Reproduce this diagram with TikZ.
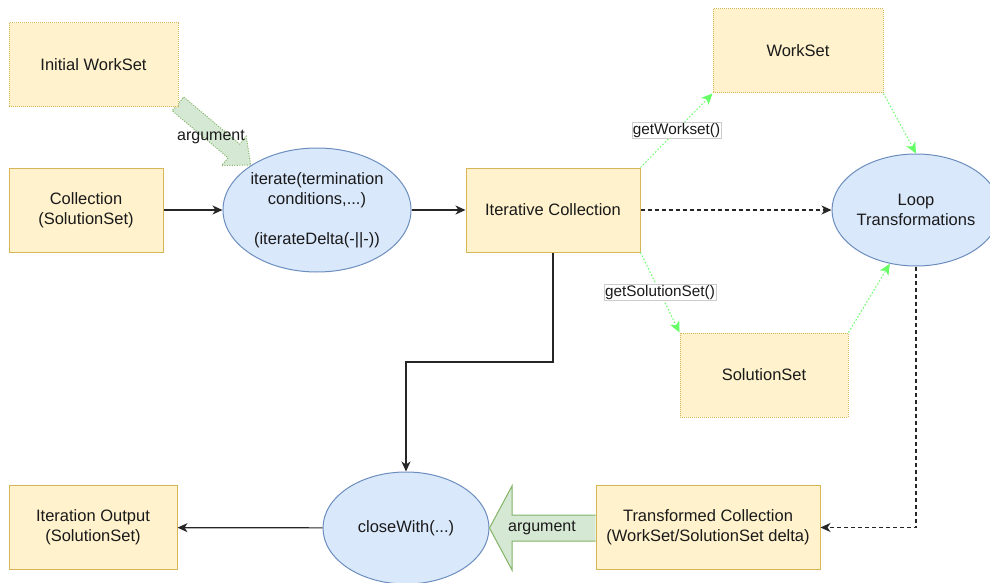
\documentclass[tikz,border=0pt]{standalone}
\usepackage{fontspec}
\setmainfont{Liberation Sans}
\usetikzlibrary{shapes.geometric,arrows.meta}
\definecolor{yfill}{HTML}{FFF2CC}
\definecolor{ydraw}{HTML}{D6B656}
\definecolor{bfill}{HTML}{DAE8FC}
\definecolor{bdraw}{HTML}{6C8EBF}
\definecolor{gfill}{HTML}{D5E8D4}
\definecolor{gdraw}{HTML}{82B366}
\definecolor{glink}{HTML}{66FF66}
\definecolor{txt}{HTML}{1A1A1A}
\begin{document}
\begin{tikzpicture}[x=1pt,y=-1pt,
  every node/.style={font=\fontsize{16.5}{20}\selectfont, text=txt},
  ybox/.style={rectangle, draw=ydraw, fill=yfill, line width=1pt, align=center, inner sep=0pt},
  dotbox/.style={ybox, dash pattern=on 1pt off 1pt},
  bell/.style={ellipse, draw=bdraw, fill=bfill, line width=1pt, align=center, inner sep=0pt},
  blk/.style={draw=black!85, line width=1.2pt, -{Stealth[length=10pt,width=9pt,inset=3pt]}},
  dsh/.style={blk, dash pattern=on 4pt off 3pt},
  grn/.style={draw=glink, line width=1pt, dash pattern=on 1.5pt off 2pt, -{Stealth[length=11pt,width=10pt,inset=3pt]}},
  lab/.style={fill=white, draw=black!20, solid, line width=0.6pt, inner sep=1pt, font=\fontsize{15.3}{17}\selectfont},
  fat/.style={fill=gfill, draw=gdraw, line width=1pt, line join=miter},
  fatlab/.style={font=\fontsize{16}{18}\selectfont}
]
\clip (0,0) rectangle (990,583);
\fill[white] (0,0) rectangle (990,583);

% top fat argument arrow (dotted)
\begin{scope}[shift={(178,104)}, rotate=-40]
  \draw[fat, dash pattern=on 1pt off 1.5pt] (0,-9) -- (73,-9) -- (73,-19) -- (95,0) -- (73,19) -- (73,9) -- (0,9) -- cycle;
\end{scope}
\node[fatlab] (argA) at (211,137) {argument};

% nodes
\node[dotbox, minimum width=169pt, minimum height=84pt] (iws) at (93.5,65) {Initial WorkSet};
\node[ybox, minimum width=154pt, minimum height=84pt] (coll) at (86,210) {Collection\\(SolutionSet)};
\node[bell, minimum width=182pt, minimum height=124pt] (iter) at (317,210) {iterate(termination\\conditions,...)\\[20pt](iterateDelta(-||-))};
\node[ybox, minimum width=174pt, minimum height=84pt] (ic) at (553,210) {Iterative Collection};
\node[dotbox, minimum width=170pt, minimum height=84pt] (ws) at (798,51) {WorkSet};
\node[bell, minimum width=168pt, minimum height=112pt] (loop) at (916,210) {Loop\\Transformations};
\node[dotbox, minimum width=168pt, minimum height=84pt] (ss) at (764,375) {SolutionSet};
\node[bell, minimum width=166pt, minimum height=112pt] (cw) at (406,528) {closeWith(...)};
\node[ybox, minimum width=168pt, minimum height=84pt] (io) at (93,527.5) {Iteration Output\\(SolutionSet)};
\node[ybox, minimum width=224pt, minimum height=84pt] (tc) at (708,527.5) {Transformed Collection\\(WorkSet/SolutionSet delta)};

% bottom fat argument arrow
\draw[fat] (tc.west |- 0,515) -- (512,515) -- (512,486) -- (cw.east) -- (512,570) -- (512,541) -- (tc.west |- 0,541);
\node[fatlab] (argB) at (542,528) {argument};

% connectors
\draw[blk] (coll) -- (iter);
\draw[blk] (iter) -- (ic);
\draw[dsh] (ic) -- (loop);
\draw[blk] (ic.south) -- (ic.south |- 0,362) -| (cw.north);
\draw[dsh] (loop.south) |- (tc.east);
\draw[blk] (cw) -- (io);

\draw[grn] (ic.north east) -- node[lab] (lws) {getWorkset()} (ws.south west);
\draw[grn] (ws.south east) -- (loop.north);
\draw[grn] (ic.south east) -- node[lab] (lss) {getSolutionSet()} (ss.north west);
\draw[grn] (ss.north east) -- (loop.-116);
\end{tikzpicture}
\end{document}
